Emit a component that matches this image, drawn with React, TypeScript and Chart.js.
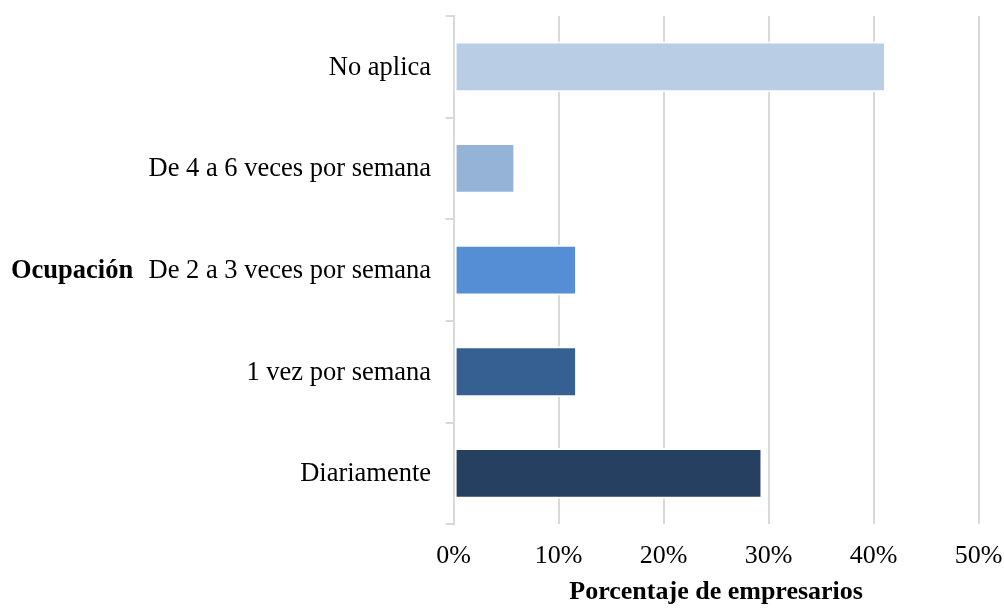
import React, { useEffect, useRef } from "react";
import { Chart, registerables } from "chart.js";

Chart.register(...registerables);

const categories = [
  "No aplica",
  "De 4 a 6 veces por semana",
  "De 2 a 3 veces por semana",
  "1 vez por semana",
  "Diariamente",
];
const values = [41.18, 5.88, 11.76, 11.76, 29.41];
const barColors = ["#b9cde5", "#95b3d7", "#558ed5", "#376092", "#254061"];
const xTickMax = 50;
const xTickStep = 10;
const xTitle = "Porcentaje de empresarios";
const yTitle = "Ocupación";

const FONT = "'Liberation Serif', 'Times New Roman', serif";

const yTitlePlugin = {
  id: "yTitleHorizontal",
  afterDraw(chart: any) {
    const ctx = chart.ctx;
    const area = chart.chartArea;
    ctx.save();
    ctx.font = `bold 26.5px ${FONT}`;
    ctx.fillStyle = "#000000";
    ctx.textAlign = "left";
    ctx.textBaseline = "middle";
    ctx.fillText(yTitle, 11, (area.top + area.bottom) / 2 + 1);
    ctx.restore();
  },
};

export default function App() {
  const ref = useRef<HTMLCanvasElement | null>(null);

  useEffect(() => {
    document.body.style.margin = "0";
    const canvas = ref.current;
    if (!canvas) return;
    const chart = new Chart(canvas, {
      type: "bar",
      data: {
        labels: categories,
        datasets: [
          {
            data: values,
            backgroundColor: barColors,
            borderColor: "#ffffff",
            borderWidth: 2,
            borderSkipped: false,
            barPercentage: 1,
            categoryPercentage: 0.5,
          },
        ],
      },
      options: {
        indexAxis: "y",
        animation: false,
        responsive: false,
        maintainAspectRatio: false,
        layout: { padding: { left: 0, top: 16, right: 25.3, bottom: 0 } },
        plugins: {
          legend: { display: false },
          tooltip: { enabled: false },
          title: { display: false },
        },
        scales: {
          x: {
            type: "linear",
            min: 0,
            max: xTickMax,
            ticks: {
              stepSize: xTickStep,
              callback: (v: any) => `${v}%`,
              font: { family: FONT, size: 26 },
              color: "#000000",
              padding: 16,
              maxRotation: 0,
            },
            grid: {
              color: "#d9d9d9",
              lineWidth: 2,
              drawTicks: false,
            },
            border: { display: false },
            title: {
              display: true,
              text: xTitle,
              font: { family: FONT, size: 26, weight: "bold" },
              color: "#000000",
              padding: { top: 0, bottom: 0 },
            },
            afterFit: (scale: any) => {
              scale.height = 83.8;
              scale.paddingLeft = 0;
              scale.paddingRight = 0;
              scale.paddingTop = 0;
              scale.paddingBottom = 0;
            },
          },
          y: {
            type: "category",
            ticks: {
              font: { family: FONT, size: 26.5 },
              color: "#000000",
              padding: 14.5,
              labelOffset: 1,
            },
            grid: {
              offset: true,
              drawOnChartArea: false,
              drawTicks: true,
              tickLength: 8,
              color: "#d9d9d9",
              lineWidth: 2,
            },
            border: { display: true, color: "#d9d9d9", width: 2 },
            afterFit: (scale: any) => {
              scale.width = 453.6;
              scale.paddingLeft = 0;
              scale.paddingRight = 0;
              scale.paddingTop = 0;
              scale.paddingBottom = 0;
            },
          },
        },
      },
      plugins: [yTitlePlugin],
    } as any);
    return () => chart.destroy();
  }, []);

  return (
    <div style={{ width: 1004, height: 608, background: "#ffffff" }}>
      <canvas ref={ref} width={1004} height={608} style={{ display: "block" }} />
    </div>
  );
}
